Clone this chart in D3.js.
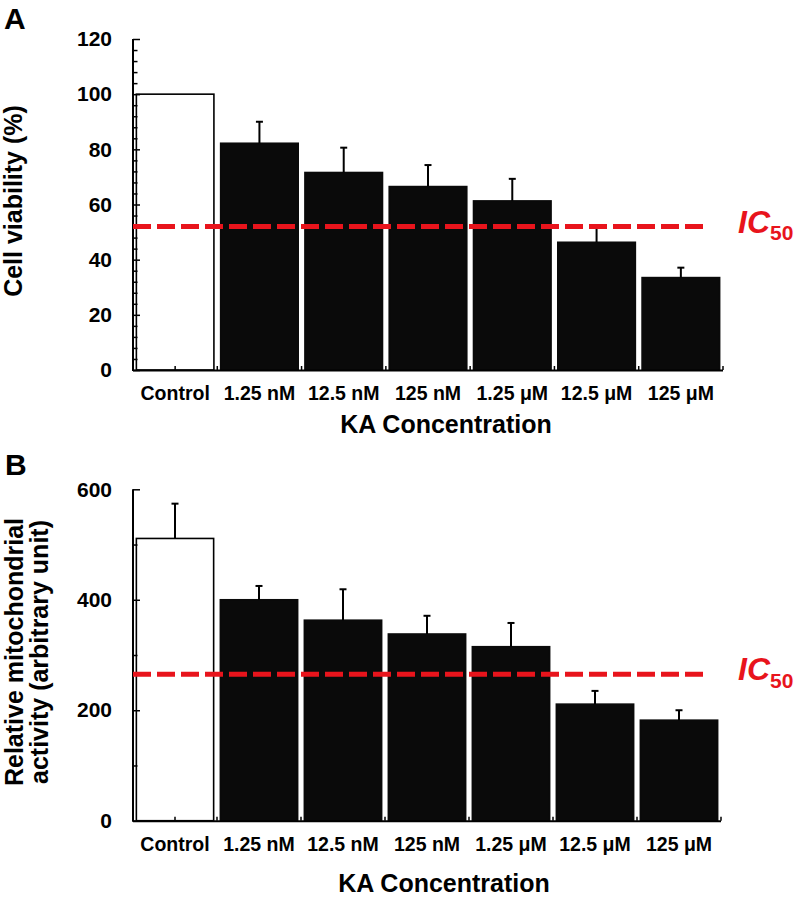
<!DOCTYPE html>
<html>
<head>
<meta charset="utf-8">
<script src="https://cdn.jsdelivr.net/npm/d3@7"></script>
<style>
  html, body { margin: 0; padding: 0; background: #fff; }
  svg { display: block; font-family: "Liberation Sans", Arial, sans-serif; font-weight: bold; }
</style>
</head>
<body>
<svg id="chart" width="799" height="903"></svg>
<script>
// ---- data ----
const categories = ["Control", "1.25 nM", "12.5 nM", "125 nM", "1.25 \u03BCM", "12.5 \u03BCM", "125 \u03BCM"];
const viability = [100, 82.2, 71.6, 66.5, 61.3, 46.3, 33.5];
const viabilityErr = [0, 7.8, 9.0, 7.8, 8.0, 5.9, 3.6];
const mito = [511, 400, 363, 338, 315, 211, 182];
const mitoErr = [63, 25, 56, 33, 43, 24, 18];
const ic50Viability = 52;
const ic50Mito = 265;
const yTicksA = [0, 20, 40, 60, 80, 100, 120];
const yTicksB = [0, 200, 400, 600];

const svg = d3.select("#chart");
const RED = "#e8141c";
const FONT = "Liberation Sans, Arial, sans-serif";

function panel(cfg) {
  const g = svg.append("g");
  const x = d3.scaleBand().domain(categories).range([cfg.x0, cfg.x1]).paddingInner(0.08).paddingOuter(0.04);
  const y = d3.scaleLinear().domain([0, cfg.ymax]).range([cfg.yBottom, cfg.yTop]);

  // bars
  g.selectAll("rect.bar").data(categories).enter().append("rect")
    .attr("x", d => x(d))
    .attr("width", x.bandwidth())
    .attr("y", (d, i) => y(cfg.values[i]))
    .attr("height", (d, i) => y(0) - y(cfg.values[i]))
    .attr("fill", (d, i) => i === 0 ? "#fff" : "#0a0a0a")
    .attr("stroke", (d, i) => i === 0 ? "#000" : "#0a0a0a")
    .attr("stroke-width", 1.6);

  // error bars (upward only)
  const idx = d3.range(categories.length).filter(i => cfg.errors[i] > 0);
  const cx = i => x(categories[i]) + x.bandwidth() / 2;
  g.selectAll("line.errv").data(idx).enter().append("line")
    .attr("x1", cx).attr("x2", cx)
    .attr("y1", i => y(cfg.values[i]))
    .attr("y2", i => y(cfg.values[i] + cfg.errors[i]))
    .attr("stroke", "#000").attr("stroke-width", 2);
  g.selectAll("line.errc").data(idx).enter().append("line")
    .attr("x1", i => cx(i) - 3.5).attr("x2", i => cx(i) + 3.5)
    .attr("y1", i => y(cfg.values[i] + cfg.errors[i]))
    .attr("y2", i => y(cfg.values[i] + cfg.errors[i]))
    .attr("stroke", "#000").attr("stroke-width", 2);

  // y axis: major ticks (labels) and minor ticks, drawn inward
  const yMajor = d3.axisLeft(y).tickValues(cfg.yTicks).tickSizeInner(-7).tickSizeOuter(0).tickPadding(21);
  const ga = g.append("g").attr("transform", `translate(${cfg.x0},0)`).call(yMajor);
  ga.select(".domain").remove();
  ga.selectAll("line").attr("stroke", "#000").attr("stroke-width", 1.5);
  ga.selectAll("text").attr("font-size", 21).attr("font-weight", "bold").attr("fill", "#000")
    .attr("font-family", FONT);

  const minorVals = d3.range(0, cfg.ymax + 0.001, cfg.minorStep).filter(v => !cfg.yTicks.includes(v));
  const yMinor = d3.axisLeft(y).tickValues(minorVals).tickSizeInner(-4.5).tickSizeOuter(0).tickFormat("");
  const gm = g.append("g").attr("transform", `translate(${cfg.x0},0)`).call(yMinor);
  gm.select(".domain").remove();
  gm.selectAll("line").attr("stroke", "#000").attr("stroke-width", 1.5);

  // axis lines
  g.append("line").attr("x1", cfg.x0).attr("x2", cfg.x0).attr("y1", y(cfg.ymax)).attr("y2", y(0) + 1)
    .attr("stroke", "#000").attr("stroke-width", 2);
  g.append("line").attr("x1", cfg.x0).attr("x2", cfg.x1).attr("y1", y(0) + 0.5).attr("y2", y(0) + 0.5)
    .attr("stroke", "#000").attr("stroke-width", 2);

  // x ticks at category boundaries (+ control centre)
  const tickXs = [x(categories[0]) + x.bandwidth() / 2].concat(d3.range(1, categories.length + 1).map(i => cfg.x0 + i * x.step()));
  g.selectAll("line.xt").data(tickXs).enter().append("line")
    .attr("x1", d => d).attr("x2", d => d)
    .attr("y1", y(0)).attr("y2", y(0) - 4)
    .attr("stroke", "#000").attr("stroke-width", 1.5);

  // x labels
  const xAxis = d3.axisBottom(x).tickSize(0).tickPadding(cfg.labelPad);
  const gx = g.append("g").attr("transform", `translate(0,${y(0)})`).call(xAxis);
  gx.select(".domain").remove();
  gx.selectAll("text").attr("font-size", 19.5).attr("font-weight", "bold").attr("fill", "#000")
    .attr("font-family", FONT);

  // x title
  g.append("text").attr("x", cfg.xTitleX).attr("y", cfg.xTitleY).attr("text-anchor", "middle")
    .attr("font-size", 25).text("KA Concentration");

  // y title
  cfg.yTitle.forEach((t, k) => {
    g.append("text")
      .attr("transform", `translate(${cfg.yTitleX[k]},${cfg.yTitleY}) rotate(-90)`)
      .attr("text-anchor", "middle").attr("font-size", 25).text(t);
  });

  // panel letter
  g.append("text").attr("x", cfg.letterX).attr("y", cfg.letterY).attr("font-size", 30).text(cfg.letter);

  // IC50 line
  const yl = y(cfg.ic50);
  g.append("line").attr("x1", cfg.x0).attr("x2", cfg.x0 + 570).attr("y1", yl).attr("y2", yl)
    .attr("stroke", RED).attr("stroke-width", 5).attr("stroke-dasharray", "18,6");
  const lab = g.append("text").attr("x", 738).attr("y", yl + 6).attr("fill", RED);
  lab.append("tspan").attr("font-style", "italic").attr("font-size", 32).text("IC");
  lab.append("tspan").attr("font-size", 21).attr("dy", 7.5).text("50");
}

panel({
  letter: "A", letterX: 4, letterY: 29,
  x0: 133, x1: 723, yTop: 39, yBottom: 370, ymax: 120, minorStep: 4,
  yTicks: yTicksA, values: viability, errors: viabilityErr, ic50: ic50Viability,
  labelPad: 16, xTitleX: 446, xTitleY: 433,
  yTitle: ["Cell viability (%)"], yTitleX: [22], yTitleY: 201
});

panel({
  letter: "B", letterX: 5, letterY: 475,
  x0: 133, x1: 721, yTop: 489.3, yBottom: 820.7, ymax: 600, minorStep: 100,
  yTicks: yTicksB, values: mito, errors: mitoErr, ic50: ic50Mito,
  labelPad: 16, xTitleX: 444, xTitleY: 892,
  yTitle: ["Relative mitochondrial", "activity (arbitrary unit)"], yTitleX: [23, 48], yTitleY: 652
});
</script>
</body>
</html>
